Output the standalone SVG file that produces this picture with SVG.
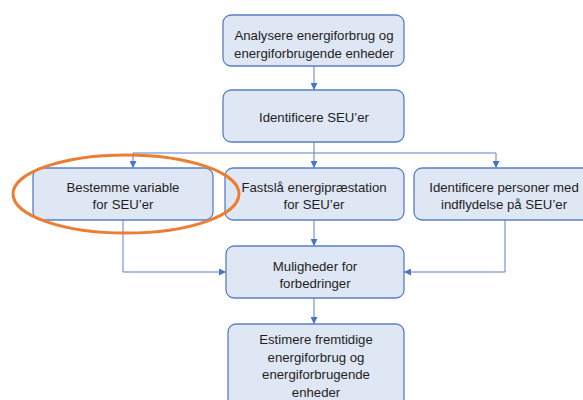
<svg xmlns="http://www.w3.org/2000/svg" width="583" height="400" viewBox="0 0 583 400">
<defs>
<marker id="ah" viewBox="0 0 10 10" refX="10" refY="5" markerWidth="7" markerHeight="7" orient="auto" markerUnits="userSpaceOnUse">
<path d="M0,0 L10,5 L0,10 z" fill="#4a74c4"/>
</marker>
<style>
.box{fill:#dfe6f4;stroke:#5a7fc6;stroke-width:1.3}
.t{font-family:"Liberation Sans",Arial,sans-serif;font-size:13.2px;fill:#1e1e1e;text-anchor:middle}
.c{fill:none;stroke:#5a7fc6;stroke-width:1}
</style>
</defs>
<rect width="583" height="400" fill="#fff"/>
<g id="connectors">
<path class="c" d="M314,66 V90" marker-end="url(#ah)"/>
<path class="c" d="M314,142 V153 H133 M314,153 H496"/>
<path class="c" d="M133,153 V168" marker-end="url(#ah)"/>
<path class="c" d="M314,153 V168" marker-end="url(#ah)"/>
<path class="c" d="M496,153 V168" marker-end="url(#ah)"/>
<path class="c" d="M314,220 V246" marker-end="url(#ah)"/>
<path class="c" d="M123,220 V272 H226" marker-end="url(#ah)"/>
<path class="c" d="M505,220 V272 H404" marker-end="url(#ah)"/>
<path class="c" d="M314,298 V324" marker-end="url(#ah)"/>
</g>
<g id="n1"><rect class="box" x="223" y="15" width="181" height="51" rx="8"/>
<text class="t" x="314" y="40">Analysere energiforbrug og</text>
<text class="t" x="314" y="58">energiforbrugende enheder</text></g>
<g id="n2"><rect class="box" x="223" y="90" width="181" height="52" rx="8"/>
<text class="t" x="314" y="122">Identificere SEU’er</text></g>
<g id="n3"><rect class="box" x="33" y="168" width="180" height="52" rx="8"/>
<text class="t" x="123" y="192">Bestemme variable</text>
<text class="t" x="123" y="209">for SEU’er</text></g>
<g id="n4"><rect class="box" x="225" y="168" width="179" height="52" rx="8"/>
<text class="t" x="314" y="192">Fastslå energipræstation</text>
<text class="t" x="314" y="209">for SEU’er</text></g>
<g id="n5"><rect class="box" x="414" y="168" width="180" height="52" rx="8"/>
<text class="t" x="504" y="192">Identificere personer med</text>
<text class="t" x="504" y="209">indflydelse på SEU’er</text></g>
<g id="n6"><rect class="box" x="226" y="246" width="178" height="52" rx="8"/>
<text class="t" x="315" y="271">Muligheder for</text>
<text class="t" x="315" y="288">forbedringer</text></g>
<g id="n7"><rect class="box" x="228" y="324" width="176" height="84" rx="8"/>
<text class="t" x="316" y="344">Estimere fremtidige</text>
<text class="t" x="316" y="362">energiforbrug og</text>
<text class="t" x="316" y="379">energiforbrugende</text>
<text class="t" x="316" y="397">enheder</text></g>
<g id="highlight"><ellipse cx="126" cy="194" rx="113" ry="39" fill="none" stroke="#ed7d31" stroke-width="3"/></g>
</svg>
